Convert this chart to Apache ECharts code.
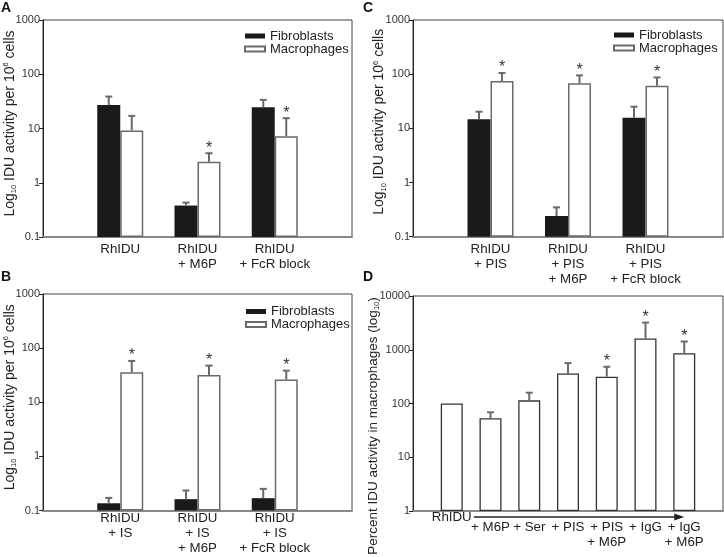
<!DOCTYPE html>
<html><head><meta charset="utf-8">
<script src="https://cdn.jsdelivr.net/npm/echarts@6/dist/echarts.min.js"></script>
<style>html,body{margin:0;padding:0;background:#fff}#c{width:724px;height:557px}</style>
</head><body><div id="c"></div>
<script>
// ---------- data ----------
const catsA = ['RhIDU', 'RhIDU\n+ M6P', 'RhIDU\n+ FcR block'];
const fibA = [27, 0.38, 24.7];
const fibAErr = [38.8, 0.43, 33.7];
const macA = [9.2, 2.44, 7.2];
const macAErr = [17.1, 3.5, 15.5];
const macASig = [0, 1, 1];

const catsB = ['RhIDU\n+ IS', 'RhIDU\n+ IS\n+ M6P', 'RhIDU\n+ IS\n+ FcR block'];
const fibB = [0.136, 0.162, 0.169];
const fibBErr = [0.171, 0.234, 0.251];
const macB = [35.8, 32, 26.2];
const macBErr = [58, 47.5, 38.4];
const macBSig = [1, 1, 1];

const catsC = ['RhIDU\n+ PIS', 'RhIDU\n+ PIS\n+ M6P', 'RhIDU\n+ PIS\n+ FcR block'];
const fibC = [14.7, 0.241, 15.7];
const fibCErr = [20.3, 0.348, 25.1];
const macC = [74.8, 67.8, 61.3];
const macCErr = [105, 95, 87];
const macCSig = [1, 1, 1];

const catsD = ['RhIDU', '+ M6P', '+ Ser', '+ PIS', '+ PIS\n+ M6P', '+ IgG', '+ IgG\n+ M6P'];
const valD = [100, 53.1, 114.5, 362, 315, 1617, 864];
const errD = [null, 68.6, 158.9, 564, 482, 3202, 1422];
const sigD = [0, 0, 0, 0, 1, 1, 1];

const ticksABC = [0.1, 1, 10, 100, 1000];
const ticksD = [1, 10, 100, 1000, 10000];

// ---------- styling ----------
const FONT = 'Liberation Sans, Arial, sans-serif';
const DARK = '#1a1a1a';
const GREY = '#6a6a6a';
const BW = 23;

function pad(a) { return [''].concat(a, ['']); }
function padV(a) { return [null].concat(a, [null]); }

function errItem(offset) {
  return function (params, api) {
    const i = api.value(0);
    const top = api.coord([i, api.value(2)]);
    const base = api.coord([i, api.value(1)]);
    const x = top[0] + offset;
    const ch = [
      { type: 'line', shape: { x1: x, y1: base[1], x2: x, y2: top[1] }, style: { stroke: GREY, lineWidth: 2 } },
      { type: 'line', shape: { x1: x - 3.5, y1: top[1], x2: x + 3.5, y2: top[1] }, style: { stroke: GREY, lineWidth: 2 } }
    ];
    if (api.value(3)) {
      ch.push({ type: 'text', x: x, y: top[1] + 3, style: { text: '*', fill: '#333', font: '16px ' + FONT, align: 'center', verticalAlign: 'bottom' } });
    }
    return { type: 'group', children: ch };
  };
}

function errData(vals, errs, sig) {
  const out = [];
  for (let i = 0; i < vals.length; i++) {
    if (errs[i] == null) continue;
    out.push([i + 1, vals[i], errs[i], sig ? sig[i] : 0]);
  }
  return out;
}

const grids = [
  { left: 43, top: 20, width: 309, height: 217 },
  { left: 43, top: 294, width: 309, height: 216.5 },
  { left: 413, top: 20, width: 310, height: 216.7 },
  { left: 413, top: 296, width: 310, height: 215 }
].map(g => Object.assign({ show: true, borderColor: '#444', borderWidth: 1, backgroundColor: 'transparent', containLabel: false, outerBoundsMode: 'none' }, g));

const nameRich = {
  sub: { fontSize: 7.5, lineHeight: 8, verticalAlign: 'bottom', fontFamily: FONT, color: '#222' },
  sup: { fontSize: 7.5, lineHeight: 8, verticalAlign: 'top', fontFamily: FONT, color: '#222' }
};

function yAx(gi, min, max, name, gap, padding, fs) {
  return {
    type: 'log', logBase: 10, gridIndex: gi, min: min, max: max, startValue: min,
    axisLine: { show: true, lineStyle: { color: '#222', width: 1 } },
    axisTick: { show: true, length: 4, lineStyle: { color: '#222' } },
    axisLabel: { fontSize: 11, color: '#333', margin: 3, fontFamily: FONT, formatter: v => String(v) },
    minorTick: { show: false }, splitLine: { show: false },
    name: name, nameLocation: 'middle', nameGap: gap, nameMoveOverlap: false,
    nameTextStyle: { fontSize: fs || 14, lineHeight: 16, color: '#222', fontFamily: FONT, rich: nameRich, padding: padding }
  };
}

function xAx(gi, cats, margin, extra) {
  return Object.assign({
    type: 'category', gridIndex: gi, data: pad(cats), boundaryGap: false,
    axisLine: { show: true, lineStyle: { color: '#888', width: 2 } },
    axisTick: { show: false },
    axisLabel: { interval: 0, fontSize: 13.3, lineHeight: 15, color: '#222', margin: margin, fontFamily: FONT },
    splitLine: { show: false }
  }, extra || {});
}

const yName = 'Log{sub|10} IDU activity per 10{sup|6} cells';

function legendAt(left, top) {
  return {
    orient: 'vertical', left: left, top: top, padding: 0, itemGap: 0,
    itemWidth: 20, itemHeight: 5, icon: 'rect', selectedMode: false,
    data: ['Fibroblasts', 'Macrophages'],
    textStyle: { fontSize: 13, lineHeight: 10, color: '#222', fontFamily: FONT }
  };
}

function panelSeries(gi, fib, fibErr, mac, macErr, macSig) {
  return [
    { name: 'Fibroblasts', type: 'bar', xAxisIndex: gi, yAxisIndex: gi, data: padV(fib), barWidth: BW, barGap: '0%',
      itemStyle: { color: DARK, borderColor: DARK, borderWidth: 0 }, animation: false },
    { name: 'Macrophages', type: 'bar', xAxisIndex: gi, yAxisIndex: gi, data: padV(mac), barWidth: BW, barGap: '0%',
      itemStyle: { color: '#fff', borderColor: GREY, borderWidth: 1.5 }, animation: false },
    { type: 'custom', xAxisIndex: gi, yAxisIndex: gi, renderItem: errItem(-BW / 2), data: errData(fib, fibErr), z: 3, animation: false, silent: true },
    { type: 'custom', xAxisIndex: gi, yAxisIndex: gi, renderItem: errItem(BW / 2), data: errData(mac, macErr, macSig), z: 3, animation: false, silent: true }
  ];
}

const dLabelFmt = function (value, index) {
  if (!value) return '';
  if (index === 1) return '{r|' + value + '}';
  return '{s| }\n' + value.split('\n').map(s => '{n|' + s + '}').join('\n');
};

const option = {
  animation: false,
  backgroundColor: '#fff',
  title: [
    { text: 'A', left: 1, top: 1 },
    { text: 'B', left: 1, top: 270 },
    { text: 'C', left: 363, top: 1 },
    { text: 'D', left: 363, top: 270 }
  ].map(t => Object.assign({ padding: 0, textStyle: { fontSize: 14, fontWeight: 'bold', color: '#111', fontFamily: FONT } }, t)),
  grid: grids,
  legend: [legendAt(244, 29.5), legendAt(245, 305), legendAt(613, 28.5)],
  xAxis: [
    xAx(0, catsA, 4.5),
    xAx(1, catsB, 0.5),
    xAx(2, catsC, 5),
    xAx(3, catsD, 0, {
      axisLabel: { interval: 0, margin: 0, fontSize: 13.3, color: '#222', fontFamily: FONT, formatter: dLabelFmt,
        rich: {
          r: { fontSize: 13.3, lineHeight: 12, color: '#222', fontFamily: FONT },
          s: { fontSize: 1, lineHeight: 9 },
          n: { fontSize: 13.3, lineHeight: 15, color: '#222', fontFamily: FONT }
        } }
    })
  ],
  yAxis: [
    yAx(0, ticksABC[0], ticksABC[4], yName, 25, [0, 0, 0, 10]),
    yAx(1, ticksABC[0], ticksABC[4], yName, 25, [0, 0, 0, 10]),
    yAx(2, ticksABC[0], ticksABC[4], yName, 25.5, [0, 0, 0, 13]),
    yAx(3, ticksD[0], ticksD[4], 'Percent IDU activity in macrophages (log{sub|10})', 32, [0, 45, 0, 0], 13.5)
  ],
  series: [].concat(
    panelSeries(0, fibA, fibAErr, macA, macAErr, macASig),
    panelSeries(1, fibB, fibBErr, macB, macBErr, macBSig),
    panelSeries(2, fibC, fibCErr, macC, macCErr, macCSig),
    [
      { name: 'Percent', type: 'bar', xAxisIndex: 3, yAxisIndex: 3, data: padV(valD), barWidth: 22,
        itemStyle: { color: '#fff', borderColor: '#333', borderWidth: 1.3 }, animation: false },
      { type: 'custom', xAxisIndex: 3, yAxisIndex: 3, renderItem: errItem(0), data: errData(valD, errD, sigD), z: 3, animation: false, silent: true }
    ]
  )
};

const chart = echarts.init(document.getElementById('c'), null, { renderer: 'canvas' });
chart.setOption(option);

// arrow under panel D x axis, anchored to the axis positions
const p1 = chart.convertToPixel({ gridIndex: 3 }, [1, ticksD[0]]);
const p7 = chart.convertToPixel({ gridIndex: 3 }, [catsD.length, ticksD[0]]);
const ay = p1[1] + 6;
const ax1 = p1[0] + 22, ax2 = p7[0];
chart.setOption({
  graphic: [
    { type: 'line', shape: { x1: ax1, y1: ay, x2: ax2 - 6, y2: ay }, style: { stroke: '#222', lineWidth: 1.3 } },
    { type: 'polygon', shape: { points: [[ax2, ay], [ax2 - 10, ay - 3.5], [ax2 - 10, ay + 3.5]] }, style: { fill: '#222' } }
  ]
});
</script>
</body></html>
